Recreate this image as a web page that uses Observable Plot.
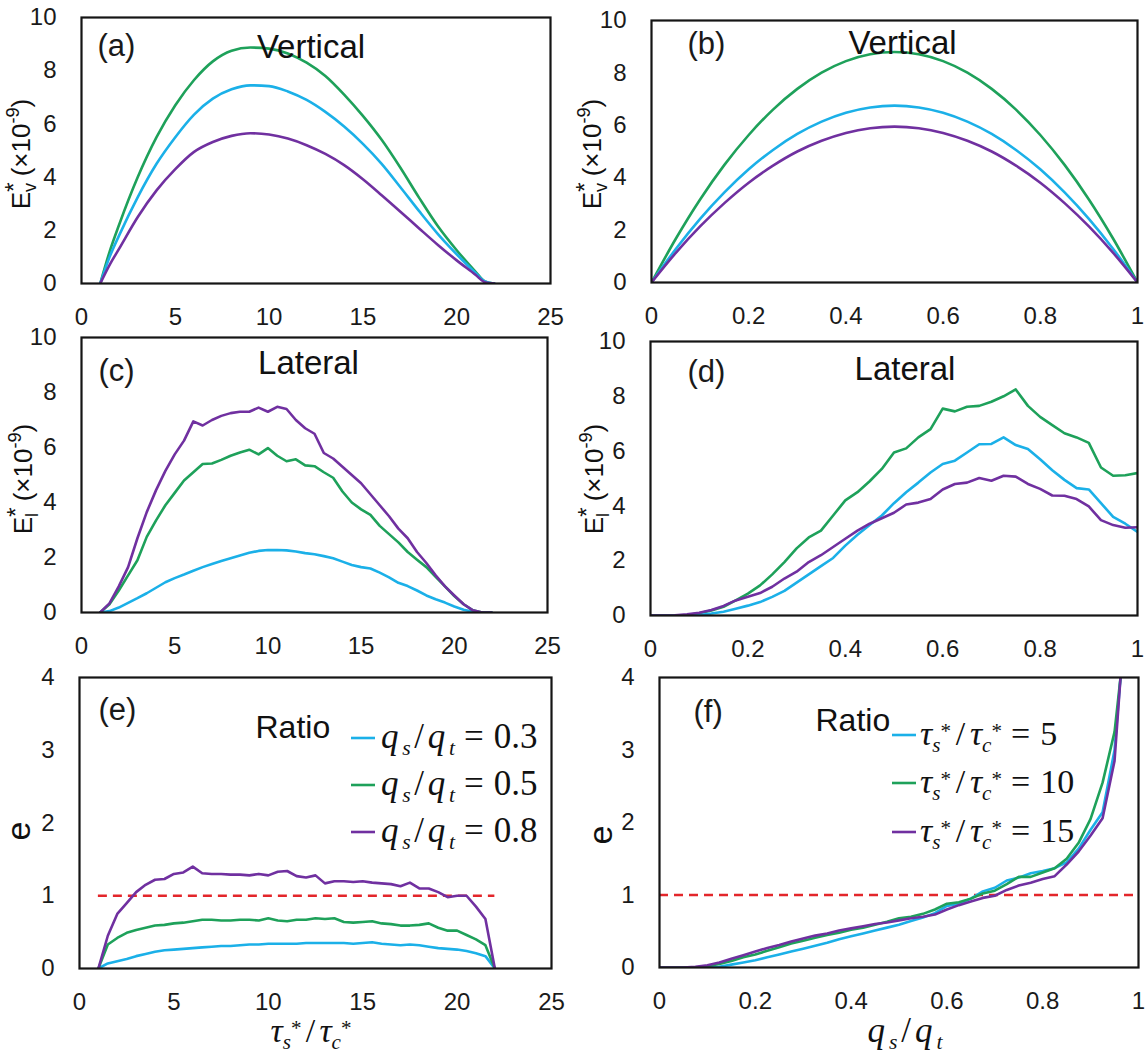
<!DOCTYPE html>
<html><head><meta charset="utf-8">
<script src="https://cdn.jsdelivr.net/npm/d3@7"></script>
<script src="https://cdn.jsdelivr.net/npm/@observablehq/plot@0.6"></script>
<style>
html,body{margin:0;padding:0;background:#fff;}
#wrap{position:relative;width:1148px;height:1054px;overflow:hidden;background:#fff;}
</style></head><body><div id="wrap"></div>
<script>
// ---------------- DATA ----------------
const seriesColors = {cyan: "#1BB0E8", green: "#1EA15A", purple: "#7030A0"};
const refColor = "#E3262B";

// (a) Vertical vs tau_s*/tau_c*
const aX = [1,1.5,2,3,4,5,6,7,8,9,10,11,12,13,14,15,16,17,18,19,20,21,21.5,22];
const aCyan   = [0,1.0,1.8,3.25,4.5,5.5,6.35,6.95,7.3,7.45,7.42,7.22,6.9,6.45,5.9,5.25,4.5,3.62,2.72,1.86,1.1,0.4,0.08,0];
const aGreen  = [0,1.2,2.2,4.0,5.5,6.7,7.65,8.35,8.75,8.87,8.83,8.65,8.3,7.8,7.1,6.3,5.4,4.35,3.22,2.15,1.25,0.45,0.08,0];
const aPurple = [0,0.7,1.3,2.5,3.5,4.3,4.95,5.32,5.55,5.65,5.6,5.45,5.2,4.87,4.45,3.92,3.32,2.7,2.07,1.45,0.87,0.33,0.05,0];

// (b) Vertical vs qs/qt
const bX = [0,0.05,0.1,0.15,0.2,0.25,0.3,0.35,0.4,0.45,0.5,0.55,0.6,0.65,0.7,0.75,0.8,0.85,0.9,0.95,1];
const bCyan   = [0,1.28,2.43,3.44,4.32,5.06,5.67,6.14,6.48,6.68,6.75,6.68,6.48,6.14,5.67,5.06,4.32,3.44,2.43,1.28,0];
const bGreen  = [0,1.67,3.17,4.49,5.63,6.6,7.39,8.01,8.45,8.71,8.8,8.71,8.45,8.01,7.39,6.6,5.63,4.49,3.17,1.67,0];
const bPurple = [0,1.13,2.14,3.03,3.81,4.46,5.0,5.41,5.71,5.89,5.95,5.89,5.71,5.41,5.0,4.46,3.81,3.03,2.14,1.13,0];

// (c) Lateral vs tau_s*/tau_c*
const cX = [1,1.5,2,2.5,3,3.5,4,4.5,5,5.5,6,6.5,7,7.5,8,8.5,9,9.5,10,10.5,11,11.5,12,12.5,13,13.5,14,14.5,15,15.5,16,16.5,17,17.5,18,18.5,19,19.5,20,20.5,21,21.5,22];
const cCyan   = [0,0.05,0.18,0.35,0.52,0.7,0.9,1.1,1.25,1.38,1.52,1.65,1.76,1.87,1.97,2.07,2.17,2.24,2.27,2.27,2.26,2.22,2.16,2.12,2.05,1.97,1.85,1.73,1.65,1.6,1.45,1.28,1.08,0.96,0.8,0.62,0.48,0.36,0.22,0.1,0.03,0,0];
const cGreen  = [0,0.3,0.8,1.35,1.9,2.75,3.35,3.9,4.35,4.8,5.1,5.4,5.42,5.55,5.7,5.82,5.92,5.75,5.98,5.7,5.5,5.57,5.35,5.32,5.1,4.9,4.4,4.0,3.75,3.55,3.15,2.85,2.55,2.2,1.92,1.65,1.3,0.95,0.6,0.3,0.08,0,0];
const cPurple = [0,0.33,0.95,1.65,2.7,3.65,4.45,5.15,5.75,6.25,6.95,6.8,7.0,7.15,7.25,7.3,7.3,7.45,7.3,7.48,7.4,7.0,6.7,6.5,5.8,5.6,5.3,5.0,4.7,4.3,3.9,3.5,3.05,2.7,2.2,1.8,1.35,0.95,0.62,0.3,0.08,0,0];

// (d) Lateral vs qs/qt
const dX = [0,0.025,0.05,0.075,0.1,0.125,0.15,0.175,0.2,0.225,0.25,0.275,0.3,0.325,0.35,0.375,0.4,0.425,0.45,0.475,0.5,0.525,0.55,0.575,0.6,0.625,0.65,0.675,0.7,0.725,0.75,0.775,0.8,0.825,0.85,0.875,0.9,0.925,0.95,0.975,1];
const dCyan   = [0,0,0,0,0.02,0.07,0.14,0.25,0.36,0.49,0.68,0.9,1.2,1.5,1.8,2.1,2.55,2.95,3.3,3.65,4.1,4.5,4.85,5.22,5.53,5.65,5.95,6.25,6.26,6.5,6.22,6.08,5.7,5.3,4.95,4.65,4.6,4.1,3.6,3.35,3.05];
const dGreen  = [0,0,0,0.02,0.08,0.18,0.32,0.55,0.8,1.1,1.5,1.95,2.45,2.85,3.1,3.65,4.2,4.5,4.9,5.35,5.95,6.1,6.5,6.8,7.55,7.45,7.62,7.65,7.8,8.0,8.25,7.65,7.25,6.95,6.65,6.5,6.3,5.4,5.1,5.12,5.2];
const dPurple = [0,0,0.01,0.04,0.1,0.2,0.35,0.55,0.68,0.82,1.05,1.35,1.6,1.95,2.2,2.5,2.8,3.1,3.35,3.55,3.75,4.05,4.12,4.25,4.6,4.8,4.85,5.02,4.92,5.1,5.07,4.8,4.62,4.38,4.37,4.25,3.98,3.48,3.3,3.2,3.22];

// (e) Ratio vs tau_s*/tau_c*
const eX = cX;
const eCyan   = [0,0.07,0.1,0.13,0.17,0.2,0.23,0.25,0.26,0.27,0.28,0.29,0.3,0.31,0.31,0.32,0.33,0.33,0.34,0.34,0.34,0.34,0.35,0.35,0.35,0.35,0.35,0.34,0.35,0.36,0.34,0.33,0.32,0.33,0.32,0.3,0.28,0.27,0.26,0.24,0.21,0.17,0];
const eGreen  = [0,0.33,0.42,0.49,0.53,0.56,0.59,0.6,0.62,0.63,0.65,0.67,0.67,0.66,0.66,0.67,0.67,0.66,0.69,0.66,0.65,0.67,0.67,0.69,0.68,0.69,0.64,0.63,0.64,0.65,0.62,0.61,0.59,0.59,0.6,0.62,0.56,0.52,0.52,0.46,0.4,0.32,0];
const ePurple = [0,0.45,0.75,0.9,1.05,1.15,1.22,1.23,1.3,1.32,1.4,1.31,1.3,1.3,1.29,1.29,1.28,1.3,1.28,1.33,1.34,1.27,1.25,1.28,1.17,1.2,1.2,1.19,1.2,1.18,1.17,1.16,1.13,1.18,1.1,1.1,1.05,0.98,1.0,1.0,0.85,0.68,0];
const eRef = [{y: 1, x1: 1, x2: 22}];
const eLegendValues = ["0.3", "0.5", "0.8"];

// (f) Ratio vs qs/qt
const fX = [0,0.025,0.05,0.075,0.1,0.125,0.15,0.175,0.2,0.225,0.25,0.275,0.3,0.325,0.35,0.375,0.4,0.425,0.45,0.475,0.5,0.525,0.55,0.575,0.6,0.625,0.65,0.675,0.7,0.725,0.75,0.775,0.8,0.825,0.85,0.875,0.9,0.925,0.95,0.9625];
const fCyan   = [0,0,0,0,0,0.01,0.04,0.07,0.1,0.14,0.18,0.22,0.26,0.3,0.34,0.39,0.43,0.47,0.51,0.55,0.59,0.64,0.69,0.75,0.85,0.88,0.95,1.05,1.1,1.2,1.24,1.3,1.33,1.37,1.45,1.64,1.9,2.14,3.0,4.0];
const fGreen  = [0,0,0,0,0.02,0.05,0.09,0.14,0.18,0.23,0.28,0.33,0.37,0.41,0.45,0.48,0.52,0.55,0.59,0.63,0.68,0.7,0.74,0.8,0.88,0.9,0.95,1.02,1.06,1.15,1.25,1.25,1.31,1.37,1.5,1.72,2.05,2.55,3.25,4.0];
const fPurple = [0,0,0,0.01,0.03,0.07,0.12,0.17,0.22,0.27,0.31,0.36,0.4,0.44,0.47,0.51,0.54,0.57,0.6,0.62,0.65,0.68,0.7,0.73,0.8,0.86,0.91,0.96,0.99,1.07,1.13,1.17,1.22,1.26,1.42,1.6,1.82,2.06,2.85,4.0];
const fRef = [{y: 1, x1: 0, x2: 1}];
const fLegendValues = ["5", "10", "15"];

// tick values
const tauTicks = [0,5,10,15,20,25];
const qTicks = [0,0.2,0.4,0.6,0.8,1];
const eTicks = [0,2,4,6,8,10];
const ratioTicks = [0,1,2,3,4];

// ---------------- RENDER ----------------
const SANS = '"Liberation Sans", Arial, Helvetica, sans-serif';
const SERIF = '"Liberation Serif", "Times New Roman", serif';
const wrap = document.getElementById("wrap");

function toRows(x, y) { return x.map((v, i) => ({x: v, y: y[i]})); }

function panel(cfg) {
  const mL = 80, mR = 16, mT = 22, mB = 48;
  const W = cfg.R - cfg.L, H = cfg.B - cfg.T;
  const marks = [];
  if (cfg.ref) marks.push(Plot.ruleY(cfg.ref, {y: "y", x1: "x1", x2: "x2", stroke: refColor, strokeWidth: 2.6, strokeDasharray: "9,6"}));
  for (const s of cfg.series) {
    marks.push(Plot.line(toRows(cfg.x, s.y), {x: "x", y: "y", stroke: s.color, strokeWidth: 2.6, curve: cfg.curve, strokeLinejoin: "round", clip: true}));
  }
  marks.push(Plot.frame({stroke: "#151515", strokeWidth: 2.2}));
  marks.push(Plot.axisX({ticks: cfg.xt, tickSize: 0, tickPadding: 24, tickFormat: d => String(d), label: null, fontSize: 24}));
  marks.push(Plot.axisY({ticks: cfg.yt, tickSize: 0, tickPadding: 25, tickFormat: d => String(d), label: null, fontSize: 24}));
  marks.push(Plot.text([cfg.tag], {frameAnchor: "top-left", text: d => d, dx: cfg.tagDx, dy: cfg.tagDy, lineAnchor: "top", textAnchor: "start", fontSize: 31, fill: "#1a1a1a"}));
  marks.push(Plot.text([cfg.title], {frameAnchor: cfg.titleAnchor, text: d => d, dx: cfg.titleDx, dy: cfg.titleDy, lineAnchor: "top", textAnchor: cfg.titleAnchor === "top" ? "middle" : "start", fontSize: cfg.titleSize, fill: "#111"}));
  const svg = Plot.plot({
    width: W + mL + mR, height: H + mT + mB,
    marginLeft: mL, marginRight: mR, marginTop: mT, marginBottom: mB,
    x: {domain: cfg.xd},
    y: {domain: cfg.yd},
    style: {fontFamily: SANS, fontSize: "24px", color: "#1a1a1a", background: "transparent", overflow: "visible"},
    marks
  });
  svg.style.position = "absolute";
  svg.style.left = (cfg.L - mL) + "px";
  svg.style.top = (cfg.T - mT) + "px";
  wrap.appendChild(svg);
}

const C = seriesColors;
panel({L: 81, R: 550, T: 17, B: 283, x: aX, curve: "monotone-x", xd: [0,25], xt: tauTicks, yd: [0,10], yt: eTicks,
  series: [{y: aGreen, color: C.green}, {y: aCyan, color: C.cyan}, {y: aPurple, color: C.purple}],
  tag: "(a)", tagDx: 16, tagDy: 16, title: "Vertical", titleAnchor: "top", titleDx: -5, titleDy: 16.6, titleSize: 33});
panel({L: 651, R: 1137, T: 20, B: 282, x: bX, curve: "monotone-x", xd: [0,1], xt: qTicks, yd: [0,10], yt: eTicks,
  series: [{y: bGreen, color: C.green}, {y: bCyan, color: C.cyan}, {y: bPurple, color: C.purple}],
  tag: "(b)", tagDx: 36, tagDy: 11, title: "Vertical", titleAnchor: "top", titleDx: 8, titleDy: 9.6, titleSize: 33});
panel({L: 81, R: 547, T: 337, B: 612, x: cX, curve: "linear", xd: [0,25], xt: tauTicks, yd: [0,10], yt: eTicks,
  series: [{y: cCyan, color: C.cyan}, {y: cGreen, color: C.green}, {y: cPurple, color: C.purple}],
  tag: "(c)", tagDx: 17, tagDy: 21, title: "Lateral", titleAnchor: "top", titleDx: -6, titleDy: 12.6, titleSize: 33});
panel({L: 650, R: 1137, T: 341, B: 615, x: dX, curve: "linear", xd: [0,1], xt: qTicks, yd: [0,10], yt: eTicks,
  series: [{y: dGreen, color: C.green}, {y: dCyan, color: C.cyan}, {y: dPurple, color: C.purple}],
  tag: "(d)", tagDx: 37, tagDy: 18, title: "Lateral", titleAnchor: "top", titleDx: 11, titleDy: 14.6, titleSize: 33});
panel({L: 79, R: 551, T: 677, B: 968, x: eX, curve: "linear", xd: [0,25], xt: tauTicks, yd: [0,4], yt: ratioTicks, ref: eRef,
  series: [{y: eCyan, color: C.cyan}, {y: eGreen, color: C.green}, {y: ePurple, color: C.purple}],
  tag: "(e)", tagDx: 19, tagDy: 20, title: "Ratio", titleAnchor: "top-left", titleDx: 176, titleDy: 37.3, titleSize: 32});
panel({L: 659, R: 1138, T: 677, B: 967, x: fX, curve: "linear", xd: [0,1], xt: qTicks, yd: [0,4], yt: ratioTicks, ref: fRef,
  series: [{y: fCyan, color: C.cyan}, {y: fGreen, color: C.green}, {y: fPurple, color: C.purple}],
  tag: "(f)", tagDx: 34, tagDy: 22, title: "Ratio", titleAnchor: "top-left", titleDx: 156, titleDy: 30.3, titleSize: 32});

// ---------------- OVERLAY TEXT (labels with sub/superscripts, legends) ----------------
const overlay = d3.create("svg").attr("width", 1148).attr("height", 1054)
  .style("position", "absolute").style("left", "0px").style("top", "0px").style("pointer-events", "none");
wrap.appendChild(overlay.node());

// One <text> element per expression; parts: {t, it} run, {sub, sup} scripts, {gap}
function rich(g, parts, fs, family, extra, fitCount) {
  extra = extra || 0;
  if (fitCount === undefined) fitCount = parts.length;
  const text = g.append("text").attr("font-family", family).attr("font-size", fs).attr("fill", "#111");
  let x = 0, xFit = 0;
  parts.forEach((p, i) => {
    if (i > 0 && i < fitCount && !p.tight) x += extra;
    if (p.gap !== undefined) { x += p.gap; }
    else if (p.t !== undefined) {
      const ts = text.append("tspan").attr("x", x).attr("y", 0).attr("font-style", p.it ? "italic" : "normal").text(p.t);
      x += ts.node().getComputedTextLength();
    } else {
      let w = 0;
      const ss = fs * (p.scale || 0.62);
      if (p.sup !== undefined) {
        const ts = text.append("tspan").attr("x", x).attr("y", -fs * (p.supShift || 0.4)).attr("font-size", ss * (p.supScale || 1))
          .attr("font-style", p.it ? "italic" : "normal").text(p.sup);
        w = Math.max(w, ts.node().getComputedTextLength());
      }
      if (p.sub !== undefined) {
        const ts = text.append("tspan").attr("x", x).attr("y", fs * (p.subShift || 0.22)).attr("font-size", ss)
          .attr("font-style", p.it ? "italic" : "normal").text(p.sub);
        w = Math.max(w, ts.node().getComputedTextLength());
      }
      x += w;
    }
    if (i === fitCount - 1) xFit = x;
  });
  return {w: x, wFit: xFit};
}
// render so that the first fitCount parts span the target width (never squeezes)
function richFit(g, parts, fs, family, target, fitCount) {
  if (fitCount === undefined) fitCount = parts.length;
  const r0 = rich(g, parts, fs, family, 0, fitCount);
  if (!target) return r0;
  const loose = parts.slice(1, fitCount).filter(p => !p.tight).length;
  const extra = Math.max(0, (target - r0.wFit) / Math.max(1, loose));
  g.selectAll("*").remove();
  return rich(g, parts, fs, family, extra, fitCount);
}

// y-axis labels (rotated)
function yLabel(parts, baselineX, centerY, fs) {
  const g = overlay.append("g");
  const inner = g.append("g");
  const r = rich(inner, parts, fs, SANS, 0);
  g.attr("transform", `translate(${baselineX},${centerY}) rotate(-90) translate(${-r.w / 2},0)`);
}
const EvParts = [{t: "E"}, {sub: "v", sup: "*", supShift: 0.3, supScale: 1.35, scale: 0.7}, {gap: 6}, {t: "(×10"}, {sup: "-9", supShift: 0.42, scale: 0.7}, {t: ")"}];
const ElParts = [{t: "E"}, {sub: "l", sup: "*", supShift: 0.3, supScale: 1.35, scale: 0.7}, {gap: 6}, {t: "(×10"}, {sup: "-9", supShift: 0.42, scale: 0.7}, {t: ")"}];
yLabel(EvParts, 30, 154, 26);
yLabel(EvParts, 601, 154, 26);
yLabel(ElParts, 32, 479, 26);
yLabel(ElParts, 603, 479, 26);
yLabel([{t: "e"}], 30, 831, 34);
yLabel([{t: "e"}], 612, 835, 34);

// math expressions
const qParts = [{t: "q", it: true}, {sub: "s", it: true, subShift: 0.2}, {t: "/"}, {t: "q", it: true}, {sub: "t", it: true, subShift: 0.2}];
const tauParts = [{t: "τ", it: true}, {sub: "s", it: true, subShift: 0.2, tight: true}, {sup: "*", supShift: 0.22, tight: true},
                  {t: "/"}, {t: "τ", it: true}, {sub: "c", it: true, subShift: 0.2, tight: true}, {sup: "*", supShift: 0.22, tight: true}];

function mathCentered(parts, cx, baseline, fs, target) {
  const g = overlay.append("g");
  const r = richFit(g, parts, fs, SERIF, target);
  g.attr("transform", `translate(${cx - r.w / 2},${baseline})`);
}
mathCentered(tauParts, 311, 1042, 34, 81);
mathCentered(qParts, 905, 1042, 35, 75);

function legend(parts, fs, mathW, x0, lineX1, lineX2, rows, values) {
  rows.forEach((ly, i) => {
    overlay.append("line").attr("x1", lineX1).attr("x2", lineX2).attr("y1", ly).attr("y2", ly)
      .attr("stroke", [C.cyan, C.green, C.purple][i]).attr("stroke-width", 2.6);
    const g = overlay.append("g").attr("transform", `translate(${x0},${ly + 10})`);
    const all = parts.concat([{gap: 9}, {t: "="}, {gap: 10}, {t: values[i]}]);
    richFit(g, all, fs, SERIF, mathW, parts.length);
  });
}
legend(qParts, 35, 74, 381, 351, 375, [738, 785, 832], eLegendValues);
legend(tauParts, 34, 82, 920, 892, 916, [735, 783, 832], fLegendValues);
</script>
</body></html>
